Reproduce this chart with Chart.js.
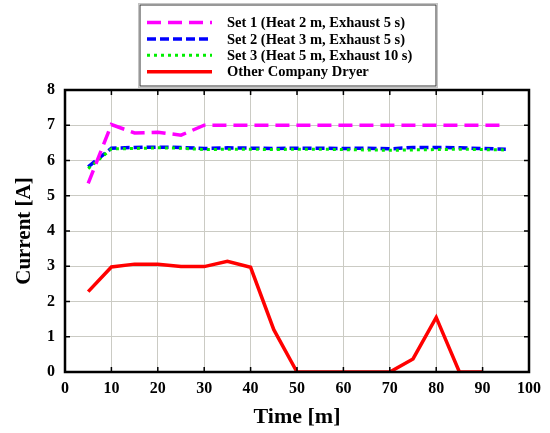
<!DOCTYPE html>
<html>
<head>
<meta charset="utf-8">
<script src="https://cdn.jsdelivr.net/npm/chart.js@4.4.0/dist/chart.umd.min.js"></script>
<style>
  body { margin: 0; background: #fff; }
</style>
</head>
<body>
<canvas id="myChart" width="550" height="433"></canvas>
<script>
const ctx = document.getElementById("myChart")

// tiempos de medicion (minutos)
const tiempos = [5, 10, 15, 20, 25, 30, 35, 40, 45, 50, 55, 60, 65, 70, 75, 80, 85, 90, 95]
const tiemposOtra = [5, 10, 15, 20, 25, 30, 35, 40, 45, 50, 55, 60, 65, 70, 75, 80, 85, 90]

const set1 = [5.35, 7.02, 6.78, 6.8, 6.72, 7.0, 7.0, 7.0, 7.0, 7.0, 7.0, 7.0, 7.0, 7.0, 7.0, 7.0, 7.0, 7.0, 7.0]
const set2 = [5.82, 6.35, 6.37, 6.38, 6.37, 6.34, 6.36, 6.35, 6.34, 6.35, 6.35, 6.34, 6.35, 6.33, 6.37, 6.37, 6.36, 6.34, 6.32]
const set3 = [5.77, 6.33, 6.34, 6.36, 6.35, 6.31, 6.32, 6.32, 6.31, 6.32, 6.32, 6.31, 6.3, 6.29, 6.3, 6.31, 6.32, 6.31, 6.3]
const otraSecadora = [2.28, 2.98, 3.06, 3.06, 2.99, 2.99, 3.14, 2.97, 1.2, 0, 0, 0, 0, 0, 0.37, 1.55, 0, 0]

const etiquetas = [
  "Set 1 (Heat 2 m, Exhaust 5 s)",
  "Set 2 (Heat 3 m, Exhaust 5 s)",
  "Set 3 (Heat 5 m, Exhaust 10 s)",
  "Other Company Dryer"
]
const colores = ["#ff00ff", "#0000ff", "#00ee00", "#ff0000"]
const guiones = [[14, 7], [9, 4], [3, 4], []]
const grosores = [3.5, 3.5, 3, 3.5]

const fuente = "'Liberation Serif', 'Times New Roman', serif"

function puntos(xs, ys) {
  return ys.map((v, i) => ({ x: xs[i], y: v }))
}

const series = [
  puntos(tiempos, set1),
  puntos(tiempos, set2),
  puntos(tiempos, set3),
  puntos(tiemposOtra, otraSecadora)
]
// orden de dibujo: el menor queda arriba
const ordenes = [0, 2, 1, 3]

// marco con marcas hacia adentro + leyenda con recuadro
const marco = {
  id: "marco",
  afterDraw(chart) {
    const { ctx, chartArea: a, scales } = chart
    const x = scales.x, y = scales.y
    ctx.save()
    ctx.strokeStyle = "#000"
    ctx.lineWidth = 1.5
    x.ticks.forEach((t) => {
      const px = x.getPixelForValue(t.value)
      ctx.beginPath()
      ctx.moveTo(px, a.bottom); ctx.lineTo(px, a.bottom - 5)
      ctx.moveTo(px, a.top); ctx.lineTo(px, a.top + 5)
      ctx.stroke()
    })
    y.ticks.forEach((t) => {
      const py = y.getPixelForValue(t.value)
      ctx.beginPath()
      ctx.moveTo(a.left, py); ctx.lineTo(a.left + 5, py)
      ctx.moveTo(a.right, py); ctx.lineTo(a.right - 5, py)
      ctx.stroke()
    })
    ctx.lineWidth = 2.5
    ctx.strokeRect(a.left, a.top, a.right - a.left, a.bottom - a.top)

    // leyenda
    const lx = 140, ly = 5, lw = 296, lh = 81
    ctx.lineWidth = 1
    ctx.strokeStyle = "#c4c4c4"
    ctx.strokeRect(lx - 1.5, ly - 1.5, lw + 3, lh + 3)
    ctx.strokeStyle = "#333"
    ctx.lineWidth = 1
    ctx.strokeRect(lx, ly, lw, lh)
    ctx.font = "bold 14.5px " + fuente
    ctx.textBaseline = "middle"
    ctx.fillStyle = "#000"
    chart.data.datasets.forEach((ds, i) => {
      const ry = 22.5 + i * 16.4
      ctx.beginPath()
      ctx.setLineDash(ds.borderDash || [])
      ctx.strokeStyle = ds.borderColor
      ctx.lineWidth = ds.borderWidth
      ctx.moveTo(147, ry); ctx.lineTo(212, ry)
      ctx.stroke()
      ctx.setLineDash([])
      ctx.fillText(ds.label, 227, ry + 1)
    })
    ctx.restore()
  }
}

new Chart(ctx, {
  type: "line",
  data: {
    datasets: series.map((d, i) => ({
      label: etiquetas[i],
      data: d,
      borderColor: colores[i],
      backgroundColor: colores[i],
      borderDash: guiones[i],
      borderWidth: grosores[i],
      pointRadius: 0,
      tension: 0,
      order: ordenes[i],
    })),
  },
  options: {
    responsive: false,
    animation: false,
    layout: { padding: { top: 90, right: 21, left: 0, bottom: 0 } },
    plugins: {
      legend: { display: false },
      tooltip: { enabled: false },
    },
    scales: {
      x: {
        type: "linear",
        min: 0,
        max: 100,
        ticks: { stepSize: 10, color: "#000", padding: 7, font: { family: fuente, size: 16, weight: "bold" } },
        grid: { color: "#cbcbc4", lineWidth: 1, drawTicks: false },
        border: { display: false },
        title: {
          display: true,
          text: "Time [m]",
          color: "#000",
          padding: { top: 0, bottom: 2 },
          font: { family: fuente, size: 22, weight: "bold" },
        },
        afterFit: (s) => { s.height = 61 },
      },
      y: {
        min: 0,
        max: 8,
        ticks: { stepSize: 1, color: "#000", padding: 10, font: { family: fuente, size: 16, weight: "bold" } },
        grid: { color: "#cbcbc4", lineWidth: 1, drawTicks: false },
        border: { display: false },
        title: {
          display: true,
          text: "Current [A]",
          color: "#000",
          padding: { top: 12, bottom: 0 },
          font: { family: fuente, size: 21, weight: "bold" },
        },
        afterFit: (s) => { s.width = 65 },
      },
    },
  },
  plugins: [marco],
})
</script>
</body>
</html>
